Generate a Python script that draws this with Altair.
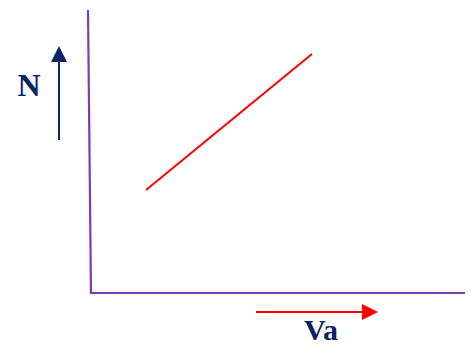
import altair as alt
import pandas as pd

# Frame (axes drawn as lines), data units
axis_x = [-3, 0, 374]
axis_y = [283, 0, 0]

# Red relation line N vs Va
line_x = [55, 221]
line_y = [103, 239]

# Arrow shafts
n_arrow_x = [-32, -32]
n_arrow_y = [153, 232]
va_arrow_x = [165, 272]
va_arrow_y = [-19, -19]

# Arrow tips
n_tip = (-32, 247)
va_tip = (287, -19)

# Labels
n_label = ["N"]
n_label_x = [-62]
n_label_y = [197]
va_label = ["Va"]
va_label_x = [230]
va_label_y = [-47]

NAVY = "#0B2464"
PURPLE = "#7A3DB0"
RED = "#FF0000"

xs = alt.Scale(domain=[-83, 374], range=[0, 457], nice=False, zero=False)
ys = alt.Scale(domain=[-54, 285], range=[339, 0], nice=False, zero=False)

def xy():
    return dict(
        x=alt.X("x:Q", scale=xs, axis=None),
        y=alt.Y("y:Q", scale=ys, axis=None),
    )

def path_layer(xv, yv, color, width):
    df = pd.DataFrame({"x": xv, "y": yv, "o": list(range(len(xv)))})
    return alt.Chart(df).mark_line(color=color, strokeWidth=width).encode(
        order="o:O", **xy()
    )

def label_layer(t, xv, yv, size):
    df = pd.DataFrame({"t": t, "x": xv, "y": yv})
    return alt.Chart(df).mark_text(
        font="Liberation Serif", fontWeight="bold", fontSize=size,
        color=NAVY, align="center", baseline="alphabetic"
    ).encode(text="t:N", **xy())

frame = path_layer(axis_x, axis_y, PURPLE, 2.2)
red_line = path_layer(line_x, line_y, RED, 2)
n_shaft = path_layer(n_arrow_x, n_arrow_y, NAVY, 2)
va_shaft = path_layer(va_arrow_x, va_arrow_y, RED, 2)

n_tip_df = pd.DataFrame({"x": [n_tip[0]], "y": [n_tip[1]]})
n_head = alt.Chart(n_tip_df).mark_point(
    shape="M0,0L-1,2L1,2Z", size=256, filled=True, color=NAVY, opacity=1
).encode(**xy())

va_tip_df = pd.DataFrame({"x": [va_tip[0]], "y": [va_tip[1]]})
va_head = alt.Chart(va_tip_df).mark_point(
    shape="M0,0L-2,-1L-2,1Z", size=256, filled=True, color=RED, opacity=1
).encode(**xy())

n_text = label_layer(n_label, n_label_x, n_label_y, 32)
va_text = label_layer(va_label, va_label_x, va_label_y, 30)

chart = alt.layer(frame, red_line, n_shaft, va_shaft, n_head, va_head, n_text, va_text).properties(
    width=457, height=339, padding=0,
    autosize=alt.AutoSizeParams(type="none"),
).configure_view(stroke=None)

chart.save("out.html", embed_options={"renderer": "svg", "actions": False})
